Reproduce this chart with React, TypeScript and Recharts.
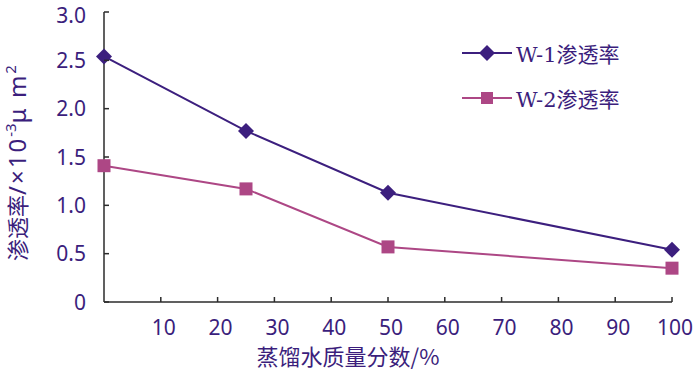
import { LineChart, Line, XAxis, YAxis } from "recharts";

const fractions = [0, 25, 50, 100];
const w1Perm = [2.54, 1.77, 1.13, 0.54];
const w2Perm = [1.41, 1.17, 0.57, 0.35];
const xTicks = [10, 20, 30, 40, 50, 60, 70, 80, 90, 100];
const yTicks = [0, 0.5, 1.0, 1.5, 2.0, 2.5, 3.0];

const seriesNames = ["W-1渗透率", "W-2渗透率"];
const W1_COLOR = "#3c1f7e";
const W2_COLOR = "#ad4785";
const TEXT = "#3b1e7c";
const AXIS = "#2b2b2b";
const NUM_FONT = "'Noto Sans', sans-serif";
const CJK_FONT = "'Noto Sans CJK SC', sans-serif";

const data = fractions.map((f, i) => ({ x: f, w1: w1Perm[i], w2: w2Perm[i] }));

function YTick({ x, y, payload }: any) {
  const v = payload.value;
  // the top label sits a little low in the original, keep it inside the page
  const dy = v === 3 ? 11 : 7.5;
  return (
    <g>
      <line x1={x} x2={x + 5} y1={y} y2={y} stroke={AXIS} strokeWidth={1.5} />
      <text x={x - 18} y={y} dy={dy} textAnchor="end" fill={TEXT} fontSize={21} fontFamily={NUM_FONT}>
        {v === 0 ? "0" : v.toFixed(1)}
      </text>
    </g>
  );
}

function XTick({ x, y, payload }: any) {
  return (
    <g>
      <line x1={x} x2={x} y1={y} y2={y - 5} stroke={AXIS} strokeWidth={1.5} />
      <text x={x + 3} y={y + 33} textAnchor="middle" fill={TEXT} fontSize={21} fontFamily={NUM_FONT}>
        {payload.value}
      </text>
    </g>
  );
}

function Diamond({ cx, cy, color, r = 7 }: any) {
  if (cx == null || cy == null) return null;
  return <path d={`M${cx},${cy - r} L${cx + r},${cy} L${cx},${cy + r} L${cx - r},${cy} Z`} fill={color} />;
}

function Square({ cx, cy, color, s = 6 }: any) {
  if (cx == null || cy == null) return null;
  return <rect x={cx - s} y={cy - s} width={s * 2} height={s * 2} fill={color} />;
}

function ChartLegend() {
  const items = [
    { name: seriesNames[0], color: W1_COLOR, shape: "diamond" },
    { name: seriesNames[1], color: W2_COLOR, shape: "square" },
  ];
  return (
    <div style={{ position: "absolute", left: 462, top: 30 }}>
      {items.map((it) => (
        <div key={it.name} style={{ display: "flex", alignItems: "center", height: 45 }}>
          <svg width={52} height={20}>
            <line x1={0} x2={50} y1={10} y2={10} stroke={it.color} strokeWidth={2} />
            {it.shape === "diamond" ? (
              <Diamond cx={25} cy={10} color={it.color} r={8} />
            ) : (
              <Square cx={25} cy={10} color={it.color} s={6} />
            )}
          </svg>
          <span
            style={{
              color: TEXT,
              fontSize: 21,
              fontFamily: "'DejaVu Serif', 'Noto Sans CJK SC', serif",
              marginLeft: 2,
            }}
          >
            {it.name}
          </span>
        </div>
      ))}
    </div>
  );
}

export default function App() {
  return (
    <div style={{ position: "absolute", left: 0, top: 0, width: 700, height: 375, background: "#fff" }}>
      <LineChart width={700} height={375} data={data} margin={{ top: 12, right: 28, left: 0, bottom: 0 }}>
        <XAxis
          dataKey="x"
          type="number"
          domain={[0, 100]}
          ticks={xTicks}
          interval={0}
          tickSize={0}
          tickMargin={0}
          tick={<XTick />}
          height={73}
          stroke={AXIS}
          strokeWidth={1.5}
          label={{
            content: () => (
              <text x={348} y={365} textAnchor="middle" fill={TEXT} fontSize={22} fontFamily={CJK_FONT}>
                蒸馏水质量分数/%
              </text>
            ),
          }}
        />
        <YAxis
          type="number"
          domain={[0, 3]}
          ticks={yTicks}
          interval={0}
          tickSize={0}
          tickMargin={0}
          tick={<YTick />}
          width={104}
          stroke={AXIS}
          strokeWidth={1.5}
          label={{
            content: () => (
              <text
                transform="translate(26,163) rotate(-90)"
                textAnchor="middle"
                fill={TEXT}
                fontSize={22}
                fontFamily={CJK_FONT}
              >
                渗透率
                <tspan fontFamily={NUM_FONT} fontSize={24} letterSpacing={2}>/×10</tspan>
                <tspan fontFamily={NUM_FONT} fontSize={15} dy={-10}>-3</tspan>
                <tspan fontFamily={NUM_FONT} fontSize={24} letterSpacing={2} dy={10}>μ m</tspan>
                <tspan fontFamily={NUM_FONT} fontSize={15} dy={-10}>2</tspan>
              </text>
            ),
          }}
        />
        <Line
          type="linear"
          dataKey="w1"
          name={seriesNames[0]}
          stroke={W1_COLOR}
          strokeWidth={2}
          dot={(p: any) => <Diamond key={`d${p.index}`} cx={p.cx} cy={p.cy} color={W1_COLOR} r={8} />}
          isAnimationActive={false}
        />
        <Line
          type="linear"
          dataKey="w2"
          name={seriesNames[1]}
          stroke={W2_COLOR}
          strokeWidth={2}
          dot={(p: any) => <Square key={`s${p.index}`} cx={p.cx} cy={p.cy} color={W2_COLOR} s={6.5} />}
          isAnimationActive={false}
        />
      </LineChart>
      <ChartLegend />
    </div>
  );
}
